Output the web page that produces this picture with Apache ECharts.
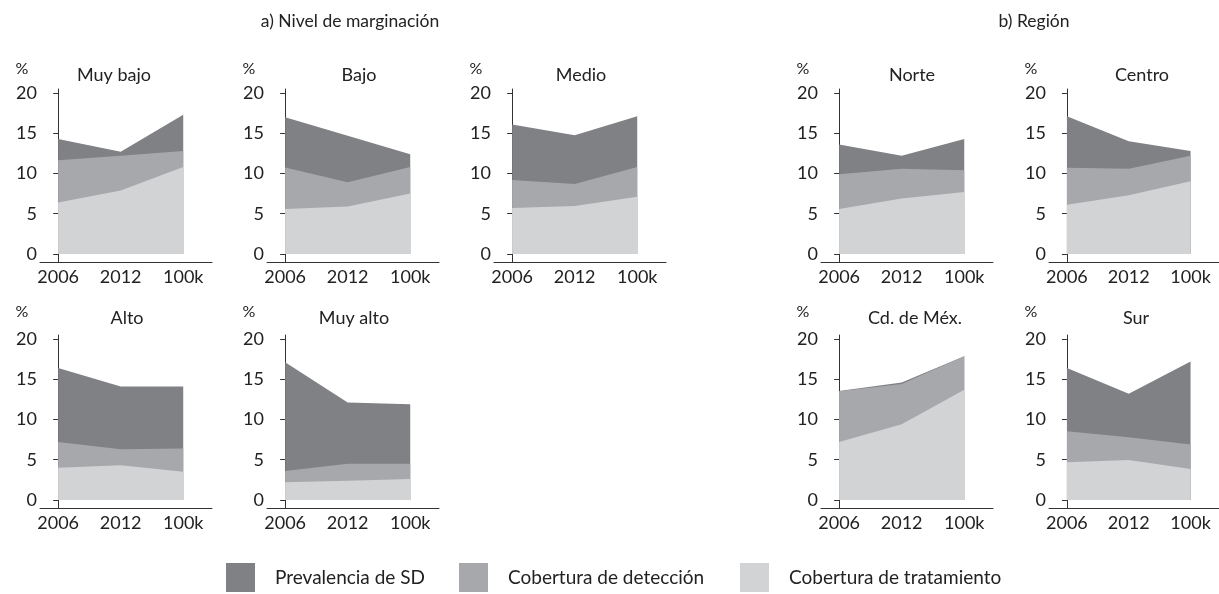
<!DOCTYPE html>
<html>
<head>
<meta charset="utf-8">
<script src="https://cdn.jsdelivr.net/npm/echarts@6/dist/echarts.min.js"></script>
<style>
  html, body { margin: 0; padding: 0; background: #fff; }
  #grafica { width: 1219px; height: 594px; }
</style>
</head>
<body>
<div id="grafica"></div>
<script>
// Datos (porcentajes)
const categorias = ['2006', '2012', '100k'];
const paneles = ['Muy bajo', 'Bajo', 'Medio', 'Alto', 'Muy alto', 'Norte', 'Centro', 'Cd. de Méx.', 'Sur'];
const ticksY = [0, 5, 10, 15, 20];

const prevalencia = [
  [14.3, 12.7, 17.3], [17.0, 14.7, 12.4], [16.1, 14.75, 17.1],
  [16.4, 14.1, 14.1], [17.1, 12.1, 11.9],
  [13.6, 12.2, 14.3], [17.1, 14.0, 12.8],
  [13.55, 14.6, 17.85], [16.4, 13.2, 17.2]
];
const deteccion = [
  [11.65, 12.2, 12.8], [10.75, 8.9, 10.8], [9.2, 8.7, 10.8],
  [7.2, 6.3, 6.4], [3.6, 4.5, 4.5],
  [9.9, 10.6, 10.4], [10.7, 10.6, 12.2],
  [13.5, 14.4, 17.85], [8.55, 7.8, 6.9]
];
const tratamiento = [
  [6.4, 7.9, 10.8], [5.6, 5.9, 7.5], [5.7, 5.95, 7.1],
  [4.0, 4.3, 3.5], [2.2, 2.4, 2.6],
  [5.6, 6.9, 7.7], [6.1, 7.3, 9.05],
  [7.2, 9.4, 13.7], [4.7, 4.95, 3.85]
];

const nombresSeries = ['Prevalencia de SD', 'Cobertura de detección', 'Cobertura de tratamiento'];
const colores = ['#808185', '#a7a8ab', '#d2d3d5'];

// Posición de cada panel: x del eje, fila, centro del título
const ejeX = [40, 267, 494, 40, 267, 821, 1049, 821, 1049];
const fila = [0, 0, 0, 1, 1, 0, 0, 1, 1];
const tituloX = [114, 359, 581, 127, 354, 912, 1142, 915, 1136];
const topFila = [89, 335];

const fuente = 'Lato, "Open Sans", sans-serif';
const colorTexto = '#222';

const grids = [], xAxes = [], yAxes = [], series = [], titulos = [];

paneles.forEach((nombre, i) => {
  grids.push({ left: ejeX[i], top: topFila[fila[i]], width: 172, height: 173 });
  xAxes.push({
    type: 'value', gridIndex: i, min: -0.29, max: 2.46,
    axisLine: { onZero: false, lineStyle: { color: '#333', width: 1 } },
    axisTick: { show: false },
    splitLine: { show: false },
    axisLabel: {
      customValues: [0, 1, 2],
      formatter: v => categorias[Math.round(v)],
      color: colorTexto, fontFamily: fuente, fontSize: 18, margin: 6
    }
  });
  yAxes.push({
    type: 'value', gridIndex: i, min: -1, max: 20.5,
    axisLine: { show: true, lineStyle: { color: '#333', width: 1 } },
    axisTick: { show: true, customValues: ticksY, length: 5, lineStyle: { color: '#333' } },
    splitLine: { show: false },
    axisLabel: {
      customValues: ticksY,
      color: colorTexto, fontFamily: fuente, fontSize: 18, margin: 3
    }
  });

  [prevalencia, deteccion, tratamiento].forEach((datos, k) => {
    series.push({
      name: nombresSeries[k],
      type: 'line',
      xAxisIndex: i, yAxisIndex: i,
      data: datos[i].map((v, j) => [j, v]),
      symbol: 'none',
      silent: true,
      lineStyle: { width: 0 },
      itemStyle: { color: colores[k] },
      areaStyle: { color: colores[k], opacity: 1, origin: 0 },
      z: 2 + k
    });
  });

  const cy = fila[i] === 0 ? 66 : 309;
  titulos.push({
    text: nombre, left: tituloX[i], top: cy, textAlign: 'center', padding: 0,
    textStyle: { fontFamily: fuente, fontSize: 18, fontWeight: 'normal', color: colorTexto }
  });
  titulos.push({
    text: '%', left: ejeX[i] - 18, top: cy - 5, textAlign: 'center', padding: 0,
    textStyle: { fontFamily: fuente, fontSize: 16, fontWeight: 'normal', color: colorTexto }
  });
});

titulos.push({
  text: 'a) Nivel de marginación', left: 350, top: 12, textAlign: 'center', padding: 0,
  textStyle: { fontFamily: fuente, fontSize: 17.5, fontWeight: 'normal', color: colorTexto }
});
titulos.push({
  text: 'b) Región', left: 1034, top: 12, textAlign: 'center', padding: 0,
  textStyle: { fontFamily: fuente, fontSize: 17.5, fontWeight: 'normal', color: colorTexto }
});

const leyendaX = [226, 459, 740];
const leyendas = nombresSeries.map((n, k) => ({
  data: [{ name: n, itemStyle: { color: colores[k] } }],
  left: leyendaX[k], top: 563, padding: 0,
  icon: 'rect', itemWidth: 29, itemHeight: 29,
  selectedMode: false,
  textStyle: { fontFamily: fuente, fontSize: 19, color: colorTexto, padding: [0, 0, 0, 15] }
}));

const chart = echarts.init(document.getElementById('grafica'));
chart.setOption({
  animation: false,
  backgroundColor: '#fff',
  title: titulos,
  legend: leyendas,
  grid: grids,
  xAxis: xAxes,
  yAxis: yAxes,
  series: series
});
</script>
</body>
</html>
